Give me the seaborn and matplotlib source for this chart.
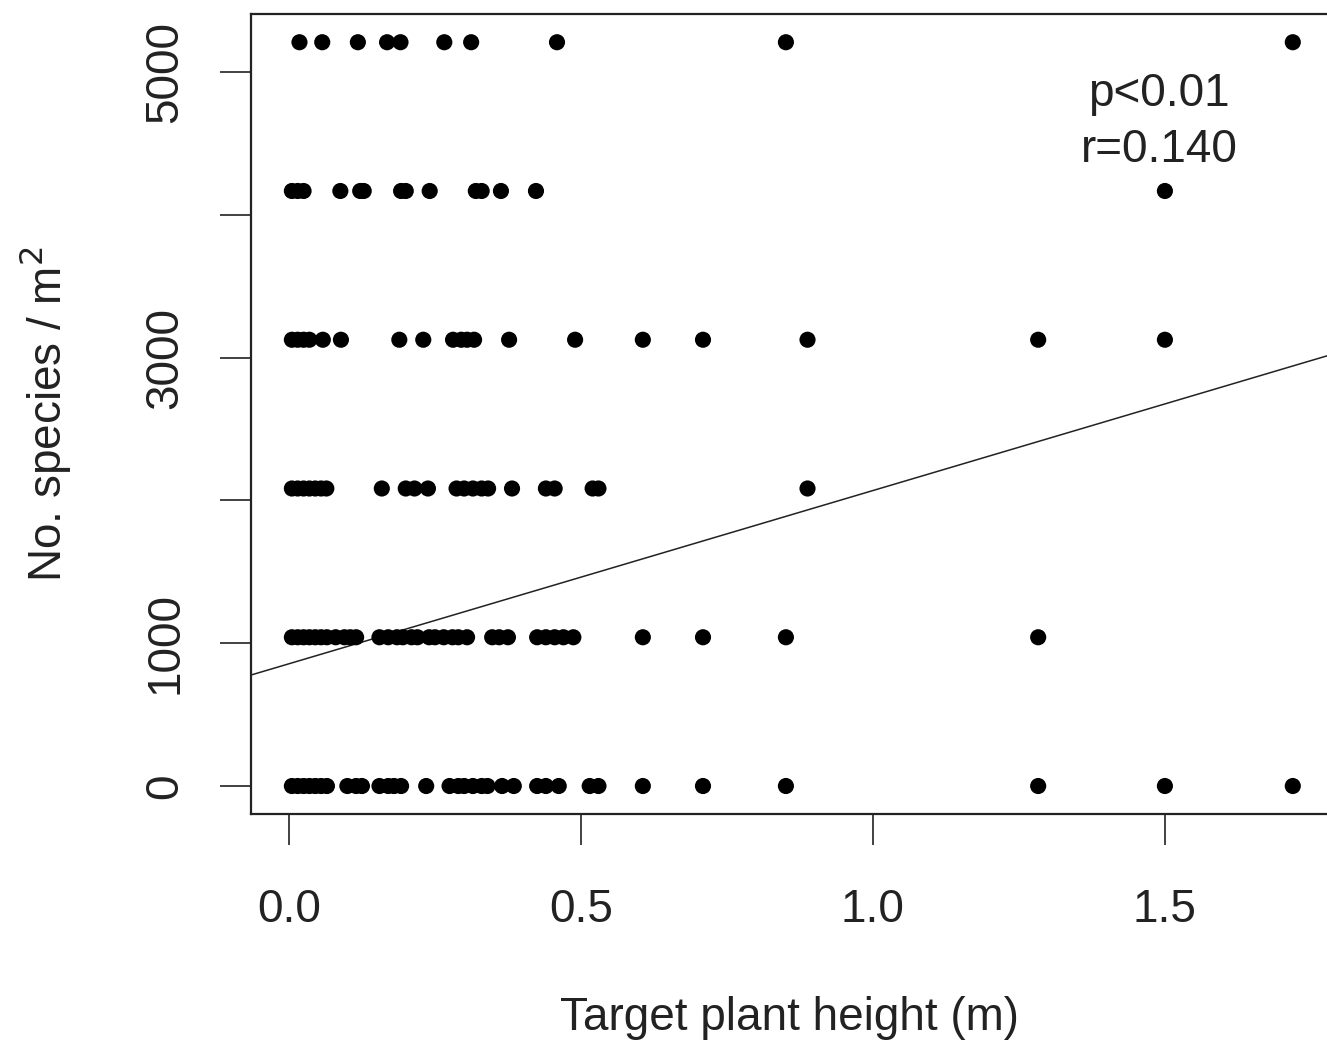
import numpy as np
import pandas as pd
import matplotlib
matplotlib.use("Agg")
import matplotlib.pyplot as plt
import seaborn as sns

# ---- data ----
row_levels = [0, 1041.67, 2083.33, 3125.0, 4166.67, 5208.33]
x_row0 = [0.005, 0.015, 0.025, 0.035, 0.045, 0.055, 0.065, 0.10, 0.115, 0.125,
          0.155, 0.17, 0.18, 0.192, 0.235, 0.275, 0.29, 0.30, 0.315, 0.33, 0.34,
          0.365, 0.385, 0.425, 0.44, 0.462, 0.515, 0.53, 0.606, 0.709, 0.851,
          1.283, 1.5, 1.719]
x_row1 = [0.005, 0.015, 0.025, 0.035, 0.045, 0.055, 0.065, 0.08, 0.095, 0.105,
          0.115, 0.155, 0.17, 0.185, 0.195, 0.21, 0.22, 0.24, 0.25, 0.265, 0.28,
          0.29, 0.305, 0.348, 0.36, 0.375, 0.425, 0.44, 0.455, 0.47, 0.487,
          0.606, 0.709, 0.851, 1.283]
x_row2 = [0.005, 0.015, 0.025, 0.035, 0.045, 0.055, 0.064, 0.159, 0.20, 0.215,
          0.238, 0.287, 0.30, 0.315, 0.33, 0.341, 0.382, 0.44, 0.455, 0.52, 0.53,
          0.888]
x_row3 = [0.005, 0.015, 0.025, 0.035, 0.058, 0.089, 0.189, 0.23, 0.281, 0.295,
          0.305, 0.317, 0.377, 0.49, 0.606, 0.709, 0.888, 1.283, 1.5]
x_row4 = [0.005, 0.015, 0.025, 0.088, 0.122, 0.128, 0.192, 0.20, 0.241, 0.32,
          0.33, 0.363, 0.423, 1.5]
x_row5 = [0.018, 0.057, 0.118, 0.168, 0.191, 0.266, 0.312, 0.459, 0.851, 1.719]

fit_intercept = 856.0
fit_slope = 1213.0
annot_text = "p<0.01\nr=0.140"

x_ticks = [0.0, 0.5, 1.0, 1.5]
x_ticklabels = ["0.0", "0.5", "1.0", "1.5"]
y_ticks = [0, 1000, 2000, 3000, 4000, 5000]
y_ticklabels = ["0", "1000", "", "3000", "", "5000"]

rows = [x_row0, x_row1, x_row2, x_row3, x_row4, x_row5]
df = pd.DataFrame({
    "height": np.concatenate([np.array(r, float) for r in rows]),
    "species": np.concatenate([np.full(len(r), lev) for r, lev in zip(rows, row_levels)]),
})

sns.set_theme(style="ticks")
plt.rcParams["font.family"] = ["Liberation Sans", "DejaVu Sans"]

W, H = 1327, 1048
fig = plt.figure(figsize=(W / 100, H / 100), dpi=100)
left, right, top, bottom = 251, 1329, 14, 814
ax = fig.add_axes([left / W, 1 - bottom / H, (right - left) / W, (bottom - top) / H])

sns.scatterplot(data=df, x="height", y="species", ax=ax, color="black",
                s=135, edgecolor="none", linewidth=0, legend=False, zorder=3)
ax.axline((0, fit_intercept), slope=fit_slope, color="#222222", lw=1.1, zorder=2)

ax.set_xlim(-0.065, 1.781)
ax.set_ylim(-196, 5406)
ax.set_xticks(x_ticks)
ax.set_xticklabels(x_ticklabels)
ax.set_yticks(y_ticks)
ax.set_yticklabels(y_ticklabels, rotation=90, va="center")

fs = 33
ax.tick_params(axis="both", length=22, width=1.3, color="#333333",
               labelsize=fs, labelcolor="#222222")
ax.tick_params(axis="x", pad=31)
ax.tick_params(axis="y", pad=24)
for sp in ax.spines.values():
    sp.set_visible(True)
    sp.set_linewidth(1.6)
    sp.set_color("#222222")

ax.text(1.49, 4650, annot_text, ha="center", va="center", fontsize=fs,
        color="#222222", linespacing=1.38)

ax.set_xlabel("Target plant height (m)", fontsize=fs, color="#222222")
ax.set_ylabel("No. species / m$^2$", fontsize=fs, color="#222222")
ax.xaxis.set_label_coords((790 - left) / (right - left), (bottom - 1018) / (bottom - top))
ax.xaxis.label.set_va("center")
ax.yaxis.set_label_coords((45 - left) / (right - left), 0.5)
ax.yaxis.label.set_va("center")

fig.savefig("out.png", dpi=100)
